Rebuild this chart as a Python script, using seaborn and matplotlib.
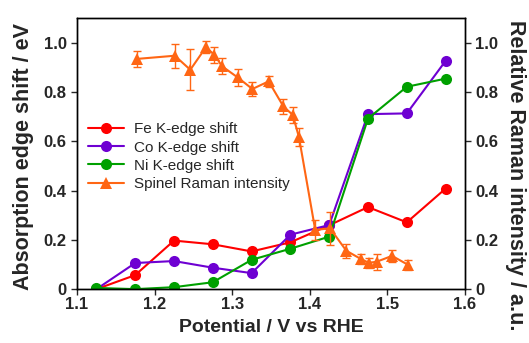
import numpy as np
import pandas as pd
import matplotlib
matplotlib.use('Agg')
import matplotlib.pyplot as plt
import seaborn as sns

# --- data ---
potential = [1.125, 1.175, 1.225, 1.275, 1.325, 1.375, 1.425, 1.475, 1.525, 1.575]
fe_shift = [0.0, 0.057, 0.197, 0.182, 0.153, 0.19, 0.259, 0.333, 0.271, 0.408]
co_shift = [0.0, 0.106, 0.114, 0.087, 0.065, 0.221, 0.26, 0.71, 0.713, 0.926]
ni_shift = [0.005, 0.0, 0.008, 0.028, 0.119, 0.164, 0.213, 0.692, 0.821, 0.854]

raman_v = [1.177, 1.226, 1.246, 1.266, 1.277, 1.287, 1.307, 1.326, 1.347, 1.366,
           1.378, 1.386, 1.407, 1.426, 1.447, 1.466, 1.476, 1.486, 1.506, 1.527]
raman_int = [0.934, 0.947, 0.89, 0.981, 0.951, 0.904, 0.859, 0.812, 0.843, 0.741,
             0.707, 0.617, 0.24, 0.247, 0.156, 0.122, 0.107, 0.111, 0.135, 0.098]
raman_err = [0.033, 0.049, 0.083, 0.024, 0.033, 0.033, 0.033, 0.029, 0.022, 0.029,
             0.032, 0.036, 0.039, 0.068, 0.029, 0.022, 0.02, 0.032, 0.024, 0.02]

labels = ['Fe K-edge shift', 'Co K-edge shift', 'Ni K-edge shift', 'Spinel Raman intensity']
colors = ['#ff0000', '#6e00d2', '#00a000', '#ff6614']

sns.set_style('ticks')
plt.rcParams['font.family'] = ['Liberation Sans', 'DejaVu Sans']

df = pd.DataFrame({'V': potential, labels[0]: fe_shift,
                   labels[1]: co_shift, labels[2]: ni_shift})
df_r = pd.DataFrame({'V': raman_v, 'I': raman_int, 'err': raman_err})

fig = plt.figure(figsize=(5.29, 3.43), dpi=100)
ax = fig.add_axes([0.1456, 0.157, 0.7334, 0.7905])
ax2 = ax.twinx()

handles = []
for name, c in zip(labels[:3], colors[:3]):
    sns.lineplot(data=df, x='V', y=name, ax=ax, color=c, marker='o',
                 markersize=8, markeredgewidth=0, linewidth=1.5)
    handles.append(ax.lines[-1])

sns.lineplot(data=df_r, x='V', y='I', ax=ax2, color=colors[3], marker='^',
             markersize=8, markeredgewidth=0, linewidth=1.5)
handles.append(ax2.lines[-1])
ax2.errorbar(df_r['V'], df_r['I'], yerr=df_r['err'], fmt='none',
             ecolor=colors[3], elinewidth=1, capsize=3)

for a in (ax, ax2):
    a.set_ylim(0, 1.1)
    a.set_yticks([0, 0.2, 0.4, 0.6, 0.8, 1.0])
    a.set_yticklabels(['0', '0.2', '0.4', '0.6', '0.8', '1.0'])
    a.tick_params(labelsize=12, width=1, length=4, direction='out')
    for lab in a.get_yticklabels() + a.get_xticklabels():
        lab.set_fontweight('bold')

ax.set_xlim(1.1, 1.6)
ax.set_xticks([1.1, 1.2, 1.3, 1.4, 1.5, 1.6])
ax.set_xticklabels(['1.1', '1.2', '1.3', '1.4', '1.5', '1.6'], fontweight='bold')
ax.tick_params(axis='x', pad=2)
ax.set_xlabel('Potential / V vs RHE', fontsize=14, fontweight='bold', labelpad=5)
ax.set_ylabel('Absorption edge shift / eV', fontsize=15.5, fontweight='bold',
              va='center')
ax.yaxis.set_label_coords(-0.137, 0.49)
ax2.set_ylabel('Relative Raman intensity / a.u.', fontsize=15.5, fontweight='bold',
               rotation=270, va='center')
ax2.yaxis.set_label_coords(1.131, 0.42)

for a in (ax, ax2):
    for s in a.spines.values():
        s.set_visible(True)
        s.set_linewidth(1)
        s.set_color('black')

ax2.legend(handles, labels, loc='upper left', bbox_to_anchor=(0.0, 0.655),
           frameon=False, fontsize=11, handlelength=2.4, labelspacing=0.28,
           borderpad=0.2, handletextpad=0.6)

fig.savefig('out.png', dpi=100)
